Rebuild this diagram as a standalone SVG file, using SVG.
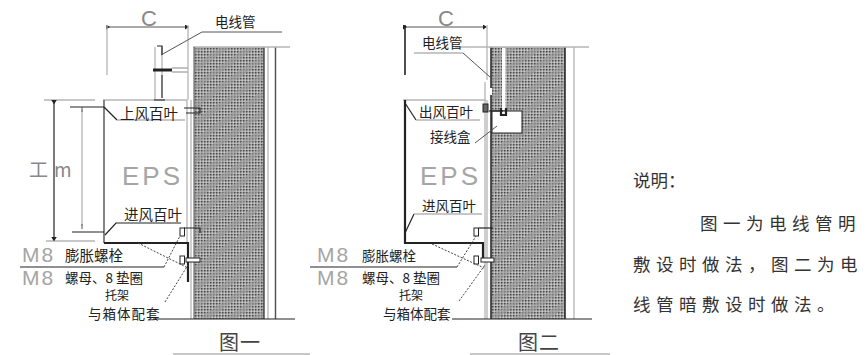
<svg xmlns="http://www.w3.org/2000/svg" width="867" height="355" viewBox="0 0 867 355">
<style>
.k{stroke:#222;fill:none;stroke-width:1.2}
.h{stroke:#222;fill:none;stroke-width:2.2}
.g{stroke:#b5b5b5;fill:none;stroke-width:1.3}
.m{stroke:#555;fill:none;stroke-width:1}
.d{stroke:#444;fill:none;stroke-width:1;stroke-dasharray:2 1.5}
.cjk{font-family:"Noto Sans CJK SC","Liberation Sans",sans-serif;fill:#222}
.lat{font-family:"Liberation Sans",sans-serif;fill:#a5a5a5}
.s{font-size:13.500px}
.b{font-size:14.500px}
.fig{font-size:20px;letter-spacing:1px;fill:#444}
.mm{font-size:21px;letter-spacing:2px}
.cc{font-size:22px;fill:#888}
.eps{font-size:26px;letter-spacing:3px}
.note{font-size:17.5px;letter-spacing:5.500px;fill:#333}
</style>
<defs>
<pattern id="wall" width="3" height="3" patternUnits="userSpaceOnUse"><rect width="3" height="3" fill="#a6a6a6"/><rect width="1.5" height="1.5" fill="#4c4c4c"/><rect x="1.5" y="1.5" width="1.5" height="1.500" fill="#c8c8c8"/></pattern>
<pattern id="sl" width="15" height="15" patternUnits="userSpaceOnUse" patternTransform="rotate(-35)"><rect width="15" height="6" fill="#9c9c9c" opacity=".6"/></pattern>
<marker id="t" markerWidth="4" markerHeight="5" refX="2" refY="2.5" orient="auto"><path d="M0 0L4 2.5L0 5Z" fill="#222"/></marker>
</defs>
<g id="wall-1"><rect x="194" y="47" width="70" height="272" fill="url(#wall)"/><rect x="194" y="47" width="70" height="272" fill="url(#sl)"/><path class="k" d="M264 47V319"/><path class="m" d="M275.500 47V319" style="stroke-width:1.500"/><path class="g" d="M193 47H290M268 47V319"/><path class="m" d="M194 47V319"/></g>
<g id="wall-2"><rect x="491" y="47" width="74" height="272" fill="url(#wall)"/><rect x="491" y="47" width="74" height="272" fill="url(#sl)"/><path class="h" d="M491 47V319M565 47V319" style="stroke-width:1.500"/><path class="g" d="M455 47H589M574 47V319"/></g>
<g id="eps-1"><path class="g" d="M103 100H187M187 100V243M191 100V319" /><path class="k" d="M104 100V243" style="stroke:#666;stroke-width:1.600"/><path class="h" d="M104 243H188V282"/><text class="lat eps" x="122" y="185">EPS</text></g>
<g id="eps-2"><path class="g" d="M403 100H486M485 82V319M487 100V319"/><path class="h" d="M405 100V243H483V262"/><text class="lat eps" x="420" y="185">EPS</text></g>
<g id="conduit-1"><path class="g" d="M155 47V100M162 47V75"/><path class="k" d="M162 75V98M154 100H165M157 46H162V55"/><path class="k" d="M172 68H188M172 72H188" style="stroke:#888"/><path class="h" d="M153 70H172" style="stroke-width:3"/><path class="k" d="M184 108H200V113H186"/></g>
<g id="conduit-2"><rect x="502" y="48" width="3.500" height="62" fill="#fff"/><rect x="489" y="88" width="3" height="7" fill="#fff"/><rect x="492" y="111" width="30" height="22" fill="#fff" stroke="#222"/><path class="k" d="M489 111H503"/><rect x="483" y="104" width="5" height="8" fill="#666" stroke="#222"/><path class="h" d="M501 108V115H506V108"/></g>
<g id="brackets-1"><rect x="180" y="228" width="4.500" height="8" fill="none" stroke="#222"/><rect x="180" y="256" width="4.500" height="8" fill="none" stroke="#222"/><path class="k" d="M184 228H200V233"/><rect x="186" y="258" width="14" height="4" fill="#fff" stroke="#222"/></g>
<g id="brackets-2"><rect x="474" y="228" width="4.500" height="8" fill="none" stroke="#222"/><rect x="474" y="256" width="4.500" height="8" fill="none" stroke="#222"/><path class="k" d="M479 228H493"/><rect x="481" y="258" width="13" height="4" fill="#fff" stroke="#222"/></g>
<g id="connectors">
<path class="m" d="M108 27H187" marker-start="url(#t)" marker-end="url(#t)"/><path class="g" d="M107 25V75M188 25V100"/>
<path class="m" d="M161 55L202 32H282"/>
<path class="g" d="M44 100H95M46 241H95"/><path class="k" d="M54 102V239" marker-start="url(#t)" marker-end="url(#t)"/><path class="g" d="M82 110V226"/><path class="k" d="M70 107H104M72 232H104"/><path class="m" d="M82 107V112M82 224V229"/>
<path class="k" d="M104 107L117 120"/><path class="g" d="M117 120H185"/><path class="k" d="M105 235L116 223H181"/>
<path class="d" d="M138 243L188 268"/><path class="k" d="M20 267H164"/><path class="d" d="M164 267L180 236"/><path class="d" d="M165 302L188 265"/>
<path class="k" d="M153 319H295"/><path class="g" d="M173 354H310"/>
<path class="m" d="M405 27H485" marker-start="url(#t)" marker-end="url(#t)"/><path class="k" d="M405 25V75" style="stroke-width:1.600"/><path class="g" d="M487 25V80"/>
<path class="g" d="M414 53H463"/><path class="m" d="M463 53L490 77"/>
<path class="k" d="M405 103L416 120"/><path class="g" d="M416 120H480"/><path class="m" d="M475 143L497 126"/>
<path class="k" d="M405 233L414 214"/><path class="g" d="M414 214H482"/>
<path class="d" d="M432 244L484 268"/><path class="k" d="M310 267H457"/><path class="d" d="M457 267L476 236"/><path class="d" d="M459 301L485 265"/>
<path class="k" d="M452 319H592"/><path class="g" d="M470 354H610"/>
</g>
<g id="labels">
<text class="lat cc" x="141" y="26">C</text>
<text class="lat cc" x="438" y="26">C</text>
<text class="cjk s" x="215" y="27">电线管</text>
<text class="cjk s" x="422" y="48">电线管</text>
<text class="cjk" x="29" y="177" font-size="19" style="fill:#888">工<tspan dx="6">m</tspan></text>
<text class="cjk b" x="120" y="119">上风百叶</text>
<text class="cjk s" x="419" y="117">出风百叶</text>
<text class="cjk s" x="430" y="142">接线盒</text>
<text class="cjk b" x="124" y="220">进风百叶</text>
<text class="cjk s" x="422" y="211">进风百叶</text>
<text class="lat mm" x="22" y="262">M8</text>
<text class="cjk b" x="65" y="261">膨胀螺栓</text>
<text class="lat mm" x="22" y="285">M8</text>
<text class="cjk s" x="65" y="283">螺母、8 垫圈</text>
<text class="cjk" font-size="12" x="105" y="300">托架</text>
<text class="cjk s" x="88" y="319" letter-spacing="1">与箱体配套</text>
<text class="lat mm" x="317" y="262">M8</text>
<text class="cjk s" x="362" y="261">膨胀螺栓</text>
<text class="lat mm" x="317" y="285">M8</text>
<text class="cjk s" x="362" y="283">螺母、8 垫圈</text>
<text class="cjk" font-size="12" x="399" y="300">托架</text>
<text class="cjk s" x="383" y="319">与箱体配套</text>
<text class="cjk fig" x="219" y="350">图一</text>
<text class="cjk fig" x="518" y="350">图二</text>
</g>
<g id="note">
<text class="cjk note" x="633" y="187" style="letter-spacing:0">说明：</text>
<text class="cjk note" x="700" y="230">图一为电线管明</text>
<text class="cjk note" x="633" y="271">敷设时做法，图二为电</text>
<text class="cjk note" x="633" y="311">线管暗敷设时做法。</text>
</g>
</svg>
